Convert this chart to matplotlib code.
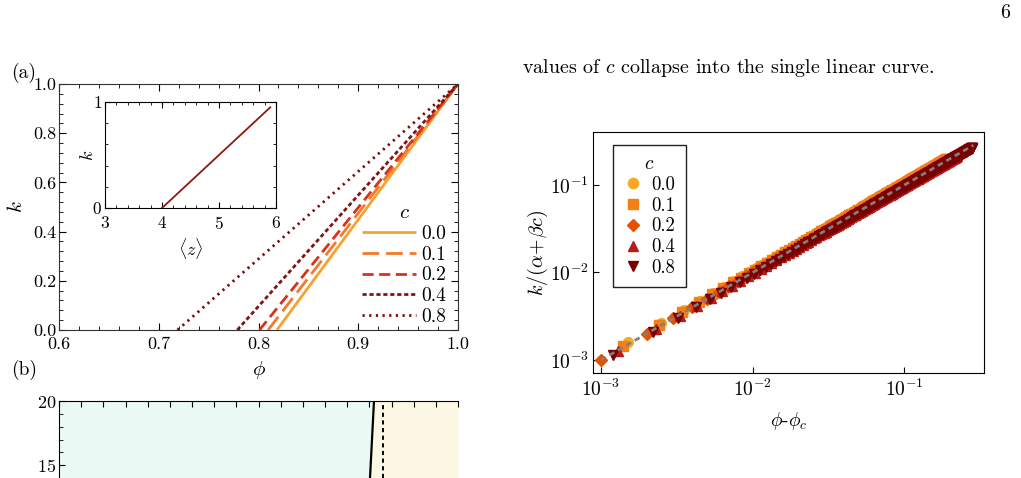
import numpy as np
import matplotlib
matplotlib.use("Agg")
import matplotlib.pyplot as plt
from matplotlib.ticker import MultipleLocator, FixedLocator, NullLocator

plt.rcParams['font.family'] = 'serif'
plt.rcParams['font.serif'] = ['cmr10', 'DejaVu Serif']
plt.rcParams['mathtext.fontset'] = 'cm'
plt.rcParams['axes.formatter.use_mathtext'] = True
plt.rcParams['lines.scale_dashes'] = False

# data
c_values = ["0.0", "0.1", "0.2", "0.4", "0.8"]
phi_c = [0.8185, 0.8096, 0.8010, 0.7787, 0.7188]   # where k reaches 0 in (a)
line_colors = ["#F9A12E", "#F27A2C", "#D8321A", "#821414", "#7A0A0A"]
line_dashes = [(0, ()), (0, (12, 5)), (0, (8, 4)), (0, (3, 2)), (0, (1.6, 3.2))]

marker_colors = ["#F9A825", "#F57F17", "#E65100", "#B71C1C", "#7B0000"]
marker_shapes = ["o", "s", "D", "^", "v"]
collapse_factor = [1.06, 1.04, 1.0, 0.97, 0.95]   # small spread of the collapsed band
phi_step = 0.001                                  # sampling of phi in the data

inset_z = [4.0, 5.9]
inset_k = [0.0, 0.95]

# panel (b) fragment (only the top is visible)
b_boundary_x = [14.03, 14.21]
b_boundary_y = [14.0, 20.0]
b_dashed_x = 14.62

W, H = 1021, 478
fig = plt.figure(figsize=(W / 100, H / 100), dpi=100)


def box(l, t, r, b):
    return [l / W, 1 - b / H, (r - l) / W, (b - t) / H]


# ---------------- panel (a) ----------------
ax = fig.add_axes(box(59, 84, 458, 330))
for pc, col, ls, lab in zip(phi_c, line_colors, line_dashes, c_values):
    ax.plot([pc, 1.0], [0.0, 1.0], color=col, linestyle=ls, lw=2.0, label=lab)
ax.set_xlim(0.6, 1.0)
ax.set_ylim(0.0, 1.0)
ax.xaxis.set_major_locator(MultipleLocator(0.1))
ax.xaxis.set_minor_locator(MultipleLocator(0.02))
ax.yaxis.set_major_locator(MultipleLocator(0.2))
ax.yaxis.set_minor_locator(MultipleLocator(0.04))
ax.xaxis.set_major_formatter(matplotlib.ticker.FormatStrFormatter('%.1f'))
ax.yaxis.set_major_formatter(matplotlib.ticker.FormatStrFormatter('%.1f'))
ax.tick_params(which='both', direction='in', top=True, right=True, labelsize=13)
ax.tick_params(which='major', length=5, width=0.8)
ax.tick_params(which='minor', length=3, width=0.6)
ax.tick_params(axis='x', pad=5)
ax.tick_params(axis='y', pad=2)
for s in ax.spines.values():
    s.set_color('#333333')
ax.set_xlabel(r'$\phi$', fontsize=15, labelpad=5)
ax.set_ylabel(r'$k$', fontsize=15, labelpad=5)
leg = ax.legend(title=r'$c$', loc='lower right', bbox_to_anchor=(1.015, -0.055),
                frameon=False, fontsize=14, title_fontsize=15,
                handlelength=2.75, handletextpad=0.3, labelspacing=0.15)

# inset
ins = fig.add_axes(box(105, 102, 276, 208))
ins.plot(inset_z, inset_k, color="#8E1A08", lw=1.3)
ins.set_xlim(3, 6)
ins.set_ylim(0, 1)
ins.xaxis.set_major_locator(MultipleLocator(1))
ins.xaxis.set_minor_locator(MultipleLocator(0.2))
ins.yaxis.set_major_locator(MultipleLocator(1))
ins.yaxis.set_minor_locator(MultipleLocator(0.2))
ins.tick_params(which='both', direction='in', top=True, right=True, labelsize=12.5)
ins.tick_params(which='major', length=4, width=0.8)
ins.tick_params(which='minor', length=2, width=0.6)
ins.tick_params(axis='x', pad=5)
ins.tick_params(axis='y', pad=2)
ins.set_xlabel(r'$\langle z\rangle$', fontsize=13, labelpad=3)
ins.set_ylabel(r'$k$', fontsize=13, labelpad=-3)

# ---------------- panel (b) fragment ----------------
bx = fig.add_axes(box(59, 401, 458, 478))
bx.set_xlim(0, 18)
bx.set_ylim(14.0, 20.0)
bx.fill_betweenx(b_boundary_y, 0, b_boundary_x, color="#EAF9F4", lw=0)
bx.fill_betweenx(b_boundary_y, b_boundary_x, 18, color="#FDF8E4", lw=0)
bx.plot(b_boundary_x, b_boundary_y, color='black', lw=1.6)
bx.axvline(b_dashed_x, color='black', lw=1.4, linestyle=(0, (3, 2.5)))
bx.spines['bottom'].set_visible(False)
bx.spines['right'].set_visible(False)
bx.xaxis.set_major_locator(MultipleLocator(1))
bx.yaxis.set_major_locator(FixedLocator([15, 20]))
bx.yaxis.set_minor_locator(MultipleLocator(1))
bx.tick_params(which='both', direction='in', bottom=False, top=True,
               labelbottom=False, labelsize=13, pad=2)
bx.tick_params(which='major', length=4)
bx.tick_params(which='minor', length=3)

# ---------------- right log-log panel ----------------
rx = fig.add_axes(box(593, 132, 984, 373))
rx.plot([1e-3, 0.285], [1e-3, 0.285], color='#808080', lw=2.0,
        linestyle=(0, (4, 3)), zorder=5)
phi_grid = np.arange(0.701, 1.0 + phi_step / 2, phi_step)
for pc, fac, col, mk, lab in zip(phi_c, collapse_factor, marker_colors,
                                 marker_shapes, c_values):
    dphi = phi_grid - pc
    dphi = dphi[dphi > 0.00095]
    rx.plot(dphi, dphi * fac, linestyle='none', marker=mk, ms=7 if mk != 'D' else 6,
            color=col, mec=col, label=lab, zorder=3)
rx.set_xscale('log')
rx.set_yscale('log')
rx.set_xlim(10 ** -3.053, 10 ** -0.475)
rx.set_ylim(10 ** -3.149, 10 ** -0.394)
rx.xaxis.set_major_locator(FixedLocator([1e-3, 1e-2, 1e-1]))
rx.yaxis.set_major_locator(FixedLocator([1e-3, 1e-2, 1e-1]))
rx.xaxis.set_minor_locator(NullLocator())
rx.yaxis.set_minor_locator(NullLocator())
rx.tick_params(which='major', direction='in', length=4, labelsize=14)
rx.tick_params(axis='x', pad=4)
rx.tick_params(axis='y', pad=3)
rx.set_xlabel(r'$\phi$-$\phi_c$', fontsize=14, labelpad=7)
rx.set_ylabel(r'$k/(\alpha\!+\!\beta c)$', fontsize=14.5, labelpad=0)
rleg = rx.legend(title=r'$c$', loc='upper left', bbox_to_anchor=(0.051, 0.946),
                 borderaxespad=0, fontsize=13.5, title_fontsize=14, fancybox=False,
                 framealpha=1, edgecolor='#222222', handlelength=1.0,
                 handletextpad=0.5, labelspacing=0.15, borderpad=0.55,
                 markerscale=1.05)
rleg.get_frame().set_linewidth(1.0)

# ---------------- page text ----------------
fig.text(11 / W, 1 - 73 / H, '(a)', fontsize=14, va='center', ha='left')
fig.text(11 / W, 1 - 370 / H, '(b)', fontsize=14, va='center', ha='left')
fig.text(522 / W, 1 - 68 / H, r'values of $c$ collapse into the single linear curve.',
         fontsize=14.4, va='center', ha='left')
fig.text(1005 / W, 1 - 13 / H, '6', fontsize=14.4, va='center', ha='center')

fig.savefig('out.png', dpi=100)
